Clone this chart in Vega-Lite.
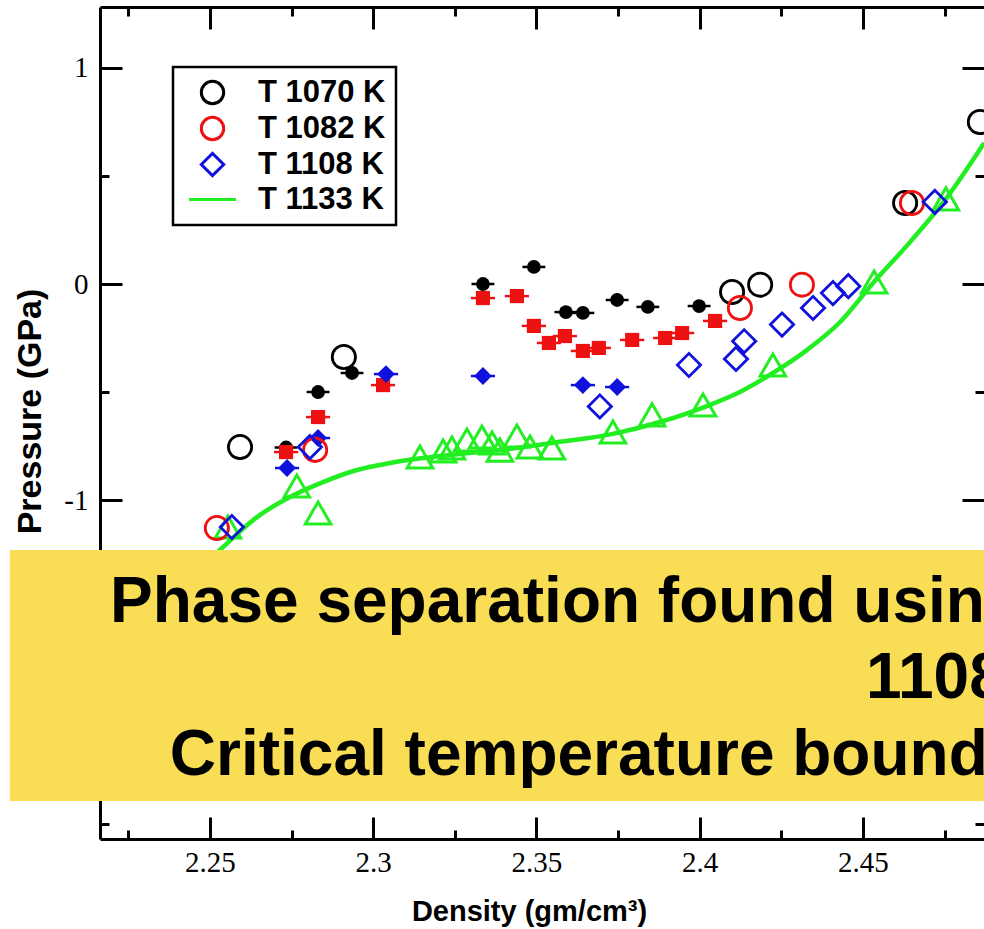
{
  "$schema": "https://vega.github.io/schema/vega-lite/v6.json",
  "width": 884,
  "height": 832,
  "autosize": {"type": "none"},
  "padding": {"left": 100, "top": 7, "right": 0, "bottom": 90},
  "background": "white",
  "config": {"view": {"stroke": null}, "axis": {"grid": false}, "legend": {"strokeWidth": 2.5}},
  "datasets": {
    "fit": [
      {"d": 2.2470, "p": -1.320}, {"d": 2.2537, "p": -1.222}, {"d": 2.2644, "p": -1.079}, {"d": 2.2745, "p": -0.986},
      {"d": 2.2846, "p": -0.917}, {"d": 2.2950, "p": -0.861}, {"d": 2.3051, "p": -0.829}, {"d": 2.3152, "p": -0.806},
      {"d": 2.3266, "p": -0.787}, {"d": 2.3388, "p": -0.769}, {"d": 2.3547, "p": -0.736}, {"d": 2.3734, "p": -0.694},
      {"d": 2.3878, "p": -0.639}, {"d": 2.4022, "p": -0.565}, {"d": 2.4123, "p": -0.500}, {"d": 2.4224, "p": -0.412},
      {"d": 2.4328, "p": -0.306}, {"d": 2.4430, "p": -0.176}, {"d": 2.4531, "p": 0.005}, {"d": 2.4644, "p": 0.194},
      {"d": 2.4754, "p": 0.394}, {"d": 2.4871, "p": 0.653}
    ],
    "open": [
      {"series": "T 1070 K", "d": 2.2592, "p": -0.755}, {"series": "T 1070 K", "d": 2.2910, "p": -0.338},
      {"series": "T 1070 K", "d": 2.4099, "p": -0.037}, {"series": "T 1070 K", "d": 2.4185, "p": -0.003},
      {"series": "T 1070 K", "d": 2.4629, "p": 0.375}, {"series": "T 1070 K", "d": 2.4858, "p": 0.750},
      {"series": "T 1082 K", "d": 2.2521, "p": -1.130}, {"series": "T 1082 K", "d": 2.2822, "p": -0.768},
      {"series": "T 1082 K", "d": 2.4123, "p": -0.111}, {"series": "T 1082 K", "d": 2.4313, "p": -0.003},
      {"series": "T 1082 K", "d": 2.4650, "p": 0.375},
      {"series": "T 1108 K", "d": 2.2567, "p": -1.125}, {"series": "T 1108 K", "d": 2.2806, "p": -0.755},
      {"series": "T 1108 K", "d": 2.3694, "p": -0.567}, {"series": "T 1108 K", "d": 2.3967, "p": -0.375},
      {"series": "T 1108 K", "d": 2.4111, "p": -0.347}, {"series": "T 1108 K", "d": 2.4136, "p": -0.265},
      {"series": "T 1108 K", "d": 2.4252, "p": -0.188}, {"series": "T 1108 K", "d": 2.4347, "p": -0.111},
      {"series": "T 1108 K", "d": 2.4408, "p": -0.042}, {"series": "T 1108 K", "d": 2.4455, "p": -0.010},
      {"series": "T 1108 K", "d": 2.4720, "p": 0.380}
    ],
    "filled": [
      {"series": "T 1070 K", "d": 2.2733, "p": -0.757, "lo": 2.2698, "hi": 2.2768},
      {"series": "T 1070 K", "d": 2.2831, "p": -0.500, "lo": 2.2796, "hi": 2.2866},
      {"series": "T 1070 K", "d": 2.2935, "p": -0.412, "lo": 2.2900, "hi": 2.2970},
      {"series": "T 1070 K", "d": 2.3336, "p": 0.000, "lo": 2.3301, "hi": 2.3371},
      {"series": "T 1070 K", "d": 2.3492, "p": 0.079, "lo": 2.3457, "hi": 2.3527},
      {"series": "T 1070 K", "d": 2.3590, "p": -0.130, "lo": 2.3555, "hi": 2.3625},
      {"series": "T 1070 K", "d": 2.3642, "p": -0.134, "lo": 2.3607, "hi": 2.3677},
      {"series": "T 1070 K", "d": 2.3747, "p": -0.074, "lo": 2.3712, "hi": 2.3782},
      {"series": "T 1070 K", "d": 2.3841, "p": -0.106, "lo": 2.3806, "hi": 2.3876},
      {"series": "T 1070 K", "d": 2.3998, "p": -0.102, "lo": 2.3963, "hi": 2.4033},
      {"series": "T 1082 K", "d": 2.2733, "p": -0.778, "lo": 2.2696, "hi": 2.2770},
      {"series": "T 1082 K", "d": 2.2831, "p": -0.616, "lo": 2.2794, "hi": 2.2868},
      {"series": "T 1082 K", "d": 2.3030, "p": -0.468, "lo": 2.2993, "hi": 2.3067},
      {"series": "T 1082 K", "d": 2.3336, "p": -0.065, "lo": 2.3299, "hi": 2.3373},
      {"series": "T 1082 K", "d": 2.3440, "p": -0.056, "lo": 2.3403, "hi": 2.3477},
      {"series": "T 1082 K", "d": 2.3492, "p": -0.194, "lo": 2.3455, "hi": 2.3529},
      {"series": "T 1082 K", "d": 2.3538, "p": -0.273, "lo": 2.3501, "hi": 2.3575},
      {"series": "T 1082 K", "d": 2.3587, "p": -0.241, "lo": 2.3550, "hi": 2.3624},
      {"series": "T 1082 K", "d": 2.3642, "p": -0.310, "lo": 2.3605, "hi": 2.3679},
      {"series": "T 1082 K", "d": 2.3691, "p": -0.296, "lo": 2.3654, "hi": 2.3728},
      {"series": "T 1082 K", "d": 2.3793, "p": -0.259, "lo": 2.3756, "hi": 2.3830},
      {"series": "T 1082 K", "d": 2.3894, "p": -0.250, "lo": 2.3857, "hi": 2.3931},
      {"series": "T 1082 K", "d": 2.3946, "p": -0.227, "lo": 2.3909, "hi": 2.3983},
      {"series": "T 1082 K", "d": 2.4047, "p": -0.171, "lo": 2.4010, "hi": 2.4084},
      {"series": "T 1108 K", "d": 2.2736, "p": -0.852, "lo": 2.2699, "hi": 2.2773},
      {"series": "T 1108 K", "d": 2.2831, "p": -0.713, "lo": 2.2794, "hi": 2.2868},
      {"series": "T 1108 K", "d": 2.3039, "p": -0.417, "lo": 2.3002, "hi": 2.3076},
      {"series": "T 1108 K", "d": 2.3336, "p": -0.426, "lo": 2.3299, "hi": 2.3373},
      {"series": "T 1108 K", "d": 2.3642, "p": -0.468, "lo": 2.3605, "hi": 2.3679},
      {"series": "T 1108 K", "d": 2.3747, "p": -0.477, "lo": 2.3710, "hi": 2.3784}
    ],
    "tri": [
      {"d": 2.2555, "p": -1.125}, {"d": 2.2766, "p": -0.935}, {"d": 2.2831, "p": -1.060}, {"d": 2.3143, "p": -0.801},
      {"d": 2.3214, "p": -0.773}, {"d": 2.3241, "p": -0.759}, {"d": 2.3287, "p": -0.722}, {"d": 2.3333, "p": -0.708},
      {"d": 2.3364, "p": -0.736}, {"d": 2.3388, "p": -0.769}, {"d": 2.3440, "p": -0.704}, {"d": 2.3480, "p": -0.755},
      {"d": 2.3547, "p": -0.759}, {"d": 2.3734, "p": -0.685}, {"d": 2.3854, "p": -0.606}, {"d": 2.4010, "p": -0.560},
      {"d": 2.4224, "p": -0.375}, {"d": 2.4534, "p": 0.009}, {"d": 2.4754, "p": 0.394}
    ],
    "box": [{"d1": 2.1887, "d2": 2.75, "p1": -1.2315, "p2": -2.3935}],
    "txt": [
      {"d": 2.2194, "p": -1.5648, "t": "Phase separation found using 2PT at T = 1070, 1082 and"},
      {"d": 2.4509, "p": -1.9167, "t": "1108 K"},
      {"d": 2.2377, "p": -2.2731, "t": "Critical temperature bounded between 1108 and 1133 K"}
    ]
  },
  "resolve": {"axis": {"x": "independent", "y": "independent"}},
  "layer": [
    {
      "data": {"name": "fit"},
      "mark": {"type": "line", "color": "#22ee22", "strokeWidth": 4.5, "clip": true, "interpolate": "monotone"},
      "encoding": {
        "x": {"field": "d", "type": "quantitative",
          "scale": {"domain": [2.21631, 2.48706], "nice": false, "zero": false},
          "axis": {
            "orient": "bottom",
            "values": [2.225, 2.25, 2.275, 2.3, 2.325, 2.35, 2.375, 2.4, 2.425, 2.45, 2.475],
            "labelExpr": "abs(datum.value*20 - round(datum.value*20)) < 0.001 ? toString(round(datum.value*1000)/1000) : ''",
            "tickSize": {"condition": {"test": "abs(datum.value*20 - round(datum.value*20)) < 0.001", "value": -22}, "value": -9},
            "tickWidth": 3, "tickColor": "black",
            "domainColor": "black", "domainWidth": 3,
            "labelFont": "Liberation Serif", "labelFontSize": 29, "labelColor": "black", "labelPadding": 31,
            "title": "Density (gm/cm³)", "titleFont": "Liberation Sans", "titleFontWeight": "bold", "titleFontSize": 29, "titleColor": "black",
            "titleX": 429, "titlePadding": 20
          }},
        "y": {"field": "p", "type": "quantitative",
          "scale": {"domain": [-2.5694, 1.2824], "nice": false, "zero": false},
          "axis": {
            "orient": "left",
            "values": [-2.5, -2, -1.5, -1, -0.5, 0, 0.5, 1],
            "labelExpr": "abs(datum.value - round(datum.value)) < 0.01 ? toString(round(datum.value)) : ''",
            "tickSize": {"condition": {"test": "abs(datum.value - round(datum.value)) < 0.01", "value": -22}, "value": -9},
            "tickWidth": 3, "tickColor": "black",
            "domainColor": "black", "domainWidth": 3,
            "labelFont": "Liberation Serif", "labelFontSize": 29, "labelColor": "black", "labelPadding": 34,
            "title": "Pressure (GPa)", "titleFont": "Liberation Sans", "titleFontWeight": "bold", "titleFontSize": 34, "titleColor": "black",
            "titleY": 404, "titlePadding": 16
          }}
      }
    },
    {
      "data": {"name": "filled"},
      "transform": [{"filter": "datum.series == 'T 1070 K'"}],
      "mark": {"type": "rule", "strokeWidth": 2.5, "color": "#000000"},
      "encoding": {
        "x": {"field": "lo", "type": "quantitative", "axis": null},
        "x2": {"field": "hi"},
        "y": {"field": "p", "type": "quantitative", "axis": null}
      }
    },
    {
      "data": {"name": "filled"},
      "transform": [{"filter": "datum.series == 'T 1082 K'"}],
      "mark": {"type": "rule", "strokeWidth": 2.5, "color": "#ee1111"},
      "encoding": {
        "x": {"field": "lo", "type": "quantitative", "axis": null},
        "x2": {"field": "hi"},
        "y": {"field": "p", "type": "quantitative", "axis": null}
      }
    },
    {
      "data": {"name": "filled"},
      "transform": [{"filter": "datum.series == 'T 1108 K'"}],
      "mark": {"type": "rule", "strokeWidth": 2.5, "color": "#1111dd"},
      "encoding": {
        "x": {"field": "lo", "type": "quantitative", "axis": null},
        "x2": {"field": "hi"},
        "y": {"field": "p", "type": "quantitative", "axis": null}
      }
    },
    {
      "data": {"name": "filled"},
      "transform": [{"filter": "datum.series == 'T 1070 K'"}],
      "mark": {"type": "point", "shape": "circle", "filled": true, "size": 190, "opacity": 1, "color": "#000000"},
      "encoding": {
        "x": {"field": "d", "type": "quantitative", "axis": null},
        "y": {"field": "p", "type": "quantitative", "axis": null}
      }
    },
    {
      "data": {"name": "filled"},
      "transform": [{"filter": "datum.series == 'T 1082 K'"}],
      "mark": {"type": "point", "shape": "square", "filled": true, "size": 200, "opacity": 1, "color": "#ee1111"},
      "encoding": {
        "x": {"field": "d", "type": "quantitative", "axis": null},
        "y": {"field": "p", "type": "quantitative", "axis": null}
      }
    },
    {
      "data": {"name": "filled"},
      "transform": [{"filter": "datum.series == 'T 1108 K'"}],
      "mark": {"type": "point", "shape": "diamond", "filled": true, "size": 320, "opacity": 1, "color": "#1111dd"},
      "encoding": {
        "x": {"field": "d", "type": "quantitative", "axis": null},
        "y": {"field": "p", "type": "quantitative", "axis": null}
      }
    },
    {
      "data": {"name": "tri"},
      "mark": {"type": "point", "shape": "triangle-up", "filled": false, "size": 650, "strokeWidth": 3, "opacity": 1, "color": "#22ee22"},
      "encoding": {
        "x": {"field": "d", "type": "quantitative", "axis": null},
        "y": {"field": "p", "type": "quantitative", "axis": null}
      }
    },
    {
      "data": {"name": "open"},
      "mark": {"type": "point", "filled": false, "size": 540, "strokeWidth": 2.8, "opacity": 1},
      "encoding": {
        "x": {"field": "d", "type": "quantitative", "axis": null},
        "y": {"field": "p", "type": "quantitative", "axis": null},
        "color": {"field": "series", "type": "nominal",
          "scale": {"domain": ["T 1070 K", "T 1082 K", "T 1108 K", "T 1133 K"], "range": ["#000000", "#ee1111", "#1111dd", "#22ee22"]},
          "legend": {"orient": "none", "legendX": 73, "legendY": 60, "title": null, "padding": 10,
            "strokeColor": "black", "fillColor": "white",
            "labelFont": "Liberation Sans", "labelFontWeight": "bold", "labelFontSize": 31, "labelColor": "black",
            "symbolSize": 500, "symbolStrokeWidth": 3, "symbolOffset": 14, "labelOffset": 30, "rowPadding": 1}},
        "shape": {"field": "series", "type": "nominal",
          "scale": {"domain": ["T 1070 K", "T 1082 K", "T 1108 K", "T 1133 K"], "range": ["circle", "circle", "diamond", "M-2.1,0H2.1"]},
          "legend": {"orient": "none", "legendX": 73, "legendY": 60, "title": null, "padding": 10,
            "strokeColor": "black", "fillColor": "white",
            "labelFont": "Liberation Sans", "labelFontWeight": "bold", "labelFontSize": 31, "labelColor": "black",
            "symbolSize": 500, "symbolStrokeWidth": 3, "symbolOffset": 14, "labelOffset": 30, "rowPadding": 1}}
      }
    },
    {
      "data": {"name": "box"},
      "mark": {"type": "rect", "color": "#f9dd55", "clip": false},
      "encoding": {
        "x": {"field": "d1", "type": "quantitative",
          "scale": {"domain": [2.21631, 2.48706], "nice": false, "zero": false},
          "axis": {
            "orient": "top",
            "values": [2.225, 2.25, 2.275, 2.3, 2.325, 2.35, 2.375, 2.4, 2.425, 2.45, 2.475],
            "labels": false, "title": null,
            "tickSize": {"condition": {"test": "abs(datum.value*20 - round(datum.value*20)) < 0.001", "value": -22}, "value": -9},
            "tickWidth": 3, "tickColor": "black", "domainColor": "black", "domainWidth": 3
          }},
        "x2": {"field": "d2"},
        "y": {"field": "p1", "type": "quantitative",
          "scale": {"domain": [-2.5694, 1.2824], "nice": false, "zero": false},
          "axis": {
            "orient": "right",
            "values": [-2.5, -2, -1.5, -1, -0.5, 0, 0.5, 1],
            "labels": false, "title": null, "domain": false,
            "tickSize": {"condition": {"test": "abs(datum.value - round(datum.value)) < 0.01", "value": -22}, "value": -9},
            "tickWidth": 3, "tickColor": "black"
          }},
        "y2": {"field": "p2"}
      }
    },
    {
      "data": {"name": "txt"},
      "mark": {"type": "text", "align": "left", "baseline": "alphabetic", "font": "Liberation Sans", "fontWeight": "bold", "fontSize": 64, "color": "black", "clip": false},
      "encoding": {
        "x": {"field": "d", "type": "quantitative", "axis": null},
        "y": {"field": "p", "type": "quantitative", "axis": null},
        "text": {"field": "t"}
      }
    }
  ]
}
